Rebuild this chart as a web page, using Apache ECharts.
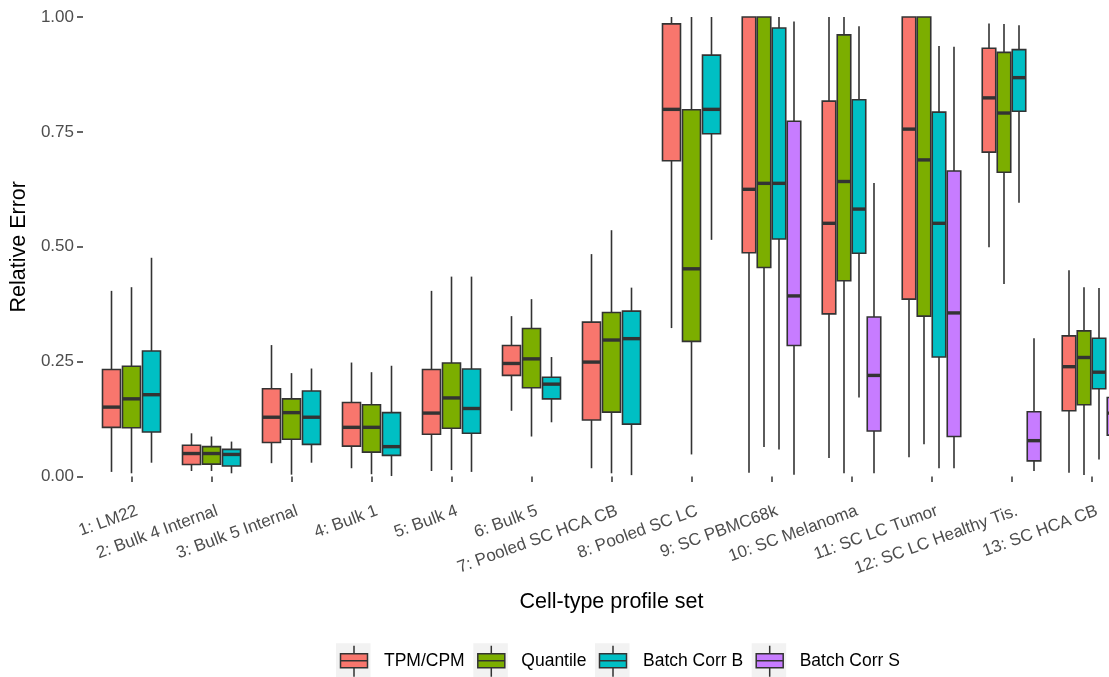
<!DOCTYPE html>
<html><head><meta charset="utf-8">
<script src="https://cdn.jsdelivr.net/npm/echarts@6/dist/echarts.min.js"></script>
<style>html,body{margin:0;padding:0;background:#fff}#c{width:1109px;height:677px}</style>
</head><body><div id="c"></div>
<script>
// ---------- data ----------
const categories = ['1: LM22','2: Bulk 4 Internal','3: Bulk 5 Internal','4: Bulk 1','5: Bulk 4','6: Bulk 5','7: Pooled SC HCA CB','8: Pooled SC LC','9: SC PBMC68k','10: SC Melanoma','11: SC LC Tumor','12: SC LC Healthy Tis.','13: SC HCA CB'];
const seriesNames = ['TPM/CPM','Quantile','Batch Corr B','Batch Corr S'];
const yTicks = [0, 0.25, 0.5, 0.75, 1];
// each entry: [min, q1, median, q3, max]
const tpmCpm = [
  [0.010,0.107,0.151,0.233,0.404],
  [0.012,0.026,0.050,0.068,0.094],
  [0.029,0.074,0.129,0.191,0.286],
  [0.018,0.066,0.107,0.161,0.248],
  [0.012,0.092,0.138,0.233,0.404],
  [0.143,0.220,0.246,0.285,0.349],
  [0.018,0.123,0.249,0.336,0.484],
  [0.323,0.687,0.799,0.985,1.000],
  [0.008,0.487,0.625,1.000,1.000],
  [0.040,0.354,0.551,0.817,1.000],
  [0.042,0.386,0.756,1.000,1.000],
  [0.499,0.706,0.824,0.932,0.986],
  [0.008,0.143,0.239,0.306,0.449]
];
const quantile = [
  [0.007,0.106,0.169,0.240,0.412],
  [0.012,0.027,0.050,0.065,0.087],
  [0.004,0.081,0.139,0.169,0.225],
  [0.005,0.053,0.107,0.156,0.227],
  [0.014,0.105,0.171,0.247,0.435],
  [0.087,0.193,0.256,0.322,0.386],
  [0.007,0.140,0.297,0.357,0.536],
  [0.048,0.294,0.452,0.798,1.000],
  [0.064,0.455,0.638,1.000,1.000],
  [0.007,0.426,0.642,0.961,1.000],
  [0.070,0.349,0.689,1.000,1.000],
  [0.419,0.662,0.791,0.923,0.985],
  [0.003,0.156,0.259,0.317,0.412]
];
const batchCorrB = [
  [0.030,0.097,0.178,0.273,0.476],
  [0.007,0.023,0.048,0.059,0.076],
  [0.030,0.070,0.129,0.186,0.235],
  [0.001,0.046,0.065,0.139,0.241],
  [0.010,0.094,0.148,0.234,0.435],
  [0.118,0.169,0.201,0.216,0.260],
  [0.003,0.114,0.300,0.360,0.411],
  [0.515,0.746,0.799,0.917,1.000],
  [0.059,0.517,0.638,0.976,1.000],
  [0.172,0.486,0.582,0.820,0.980],
  [0.018,0.260,0.551,0.793,0.937],
  [0.596,0.795,0.868,0.929,0.982],
  [0.037,0.191,0.227,0.301,0.410]
];
const batchCorrS = [
  null,null,null,null,null,null,null,null,
  [0.004,0.285,0.393,0.773,0.990],
  [0.007,0.099,0.220,0.347,0.639],
  [0.018,0.087,0.356,0.665,0.935],
  [0.012,0.034,0.078,0.141,0.301],
  [0.020,0.090,0.138,0.172,0.250]
];

// ---------- styling / layout ----------
const allSeries = [tpmCpm, quantile, batchCorrB, batchCorrS];
const colors = ['#F8766D','#7CAE00','#00BFC4','#C77CFF'];
const FONT = '"Liberation Sans", Arial, sans-serif';
const LINE = '#333333';
const groupCount = categories.map((c, i) => allSeries.filter(s => s[i]).length);
const keyLeft = [336, 473.3, 595, 751.7];
const KEY = 34.5, KEY_TOP = 643.3;

function renderItem(params, api) {
  const cat = api.value(0);
  const n = groupCount[cat];
  const slotIdx = params.seriesIndex;
  const band = api.size([1, 0])[0];
  const total = band * 0.75;
  const slot = total / n;
  const bw = slot * 0.9;
  const cx = api.coord([cat, 0])[0] - total / 2 + slot * (slotIdx + 0.5);
  const y = k => api.coord([cat, api.value(k)])[1];
  const yMin = y(1), yQ1 = y(2), yMed = y(3), yQ3 = y(4), yMax = y(5);
  const ls = {stroke: LINE, lineWidth: 1.6};
  return {type: 'group', children: [
    {type: 'line', shape: {x1: cx, y1: yMax, x2: cx, y2: yQ3}, style: ls},
    {type: 'line', shape: {x1: cx, y1: yQ1, x2: cx, y2: yMin}, style: ls},
    {type: 'rect', shape: {x: cx - bw / 2, y: yQ3, width: bw, height: yQ1 - yQ3},
     style: {fill: colors[slotIdx], stroke: LINE, lineWidth: 1.6}},
    {type: 'line', shape: {x1: cx - bw / 2, y1: yMed, x2: cx + bw / 2, y2: yMed},
     style: {stroke: LINE, lineWidth: 3.4}}
  ]};
}

const legendIcon = 'path://M0,8H27V22H0Z M13.5,0V8 M13.5,22V31 M0,15H27 M38.5,0';

const chart = echarts.init(document.getElementById('c'), null, {renderer: 'canvas'});
chart.setOption({
  animation: false,
  backgroundColor: '#ffffff',
  textStyle: {fontFamily: FONT},
  grid: {left: 91.5, width: 1040, top: 17, height: 459.5, containLabel: false, outerBoundsMode: 'none'},
  xAxis: {
    type: 'category', data: categories, offset: 23,
    axisLine: {show: false},
    axisTick: {show: true, alignWithLabel: true, length: 5.5, lineStyle: {color: LINE, width: 1.5}},
    axisLabel: {rotate: 20, interval: 0, fontSize: 17, color: '#4D4D4D', margin: 13,
      padding: [0, -6, 0, 0], fontFamily: FONT},
    splitLine: {show: false},
    name: 'Cell-type profile set', nameLocation: 'middle', nameGap: 92,
    nameTextStyle: {fontSize: 21.5, color: '#000', fontFamily: FONT}
  },
  yAxis: {
    type: 'value', min: 0, max: 1, interval: 0.25, offset: 8.5,
    axisLine: {show: false}, splitLine: {show: false},
    axisTick: {show: true, length: 6, lineStyle: {color: LINE, width: 1.5}},
    axisLabel: {fontSize: 17, color: '#4D4D4D', margin: 9, fontFamily: FONT,
      formatter: v => yTicks.includes(v) ? v.toFixed(2) : ''},
    name: 'Relative Error', nameLocation: 'middle', nameRotate: 90, nameGap: 38,
    nameTextStyle: {fontSize: 21.5, color: '#000', fontFamily: FONT}
  },
  legend: seriesNames.map((name, k) => ({
    data: [{name, icon: legendIcon,
      itemStyle: {color: colors[k], borderColor: LINE, borderWidth: 1.5}}],
    left: keyLeft[k] + 3.75, top: 645, itemWidth: 38.5, itemHeight: 31,
    padding: 0, selectedMode: false,
    textStyle: {fontSize: 17.5, color: '#000', fontFamily: FONT}
  })),
  graphic: keyLeft.map(x => ({
    type: 'rect', left: x, top: KEY_TOP, z: -10, silent: true,
    shape: {width: KEY, height: KEY}, style: {fill: '#F2F2F2'}
  })),
  series: seriesNames.map((name, k) => ({
    name, type: 'custom', renderItem,
    itemStyle: {color: colors[k]},
    encode: {x: 0, y: [1, 2, 3, 4, 5]},
    data: allSeries[k].map((v, i) => v ? [i].concat(v) : null).filter(d => d)
  }))
});
</script></body></html>
